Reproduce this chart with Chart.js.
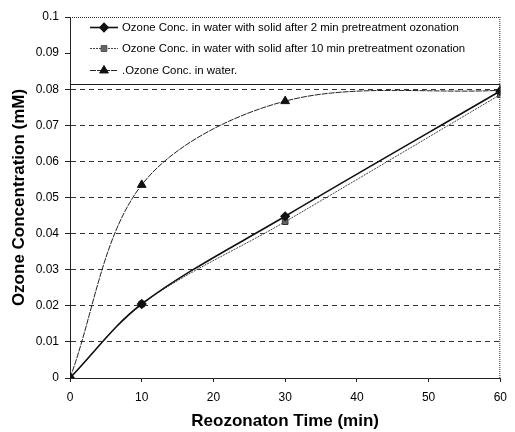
<!DOCTYPE html>
<html>
<head>
<meta charset="utf-8">
<script src="https://cdn.jsdelivr.net/npm/chart.js@4"></script>
<style>
    html, body { margin: 0; padding: 0; background: #fff; }
    #wrap { width: 515px; height: 432px; }
</style>
</head>
<body>
<div id="wrap"><canvas id="ozoneChart" width="515" height="432"></canvas></div>
<script>
// Reozonation time (min)
const times = [0, 10, 30, 60];

// Ozone concentration (mM)
const ozone2min = [0, 0.0205, 0.0448, 0.0795];
const ozone10min = [0, 0.0205, 0.0433, 0.0785];
const ozoneWater = [0, 0.0535, 0.0767, 0.0797];

const seriesLabels = [
    "Ozone Conc. in water with solid after 2 min pretreatment ozonation",
    "Ozone Conc. in water with solid after 10 min pretreatment ozonation",
    ".Ozone Conc. in water."
];

const xTicks = [0, 10, 20, 30, 40, 50, 60];

function toPoints(values) {
    return times.map((t, i) => ({ x: t, y: values[i] }));
}

// legend box drawn inside the top of the plot, over the gridlines
const boxLegend = {
    id: 'boxLegend',
    afterDraw(chart) {
        const ctx = chart.ctx;
        const area = chart.chartArea;
        const top = area.top;
        const bottom = 84;

        ctx.save();
        ctx.fillStyle = '#fff';
        ctx.fillRect(area.left + 1, top, area.right - area.left - 1, bottom - top);

        // dotted frame on top and right side of the plot
        ctx.strokeStyle = '#333';
        ctx.lineWidth = 1;
        ctx.setLineDash([1, 1]);
        ctx.beginPath();
        ctx.moveTo(area.left, top + 0.5);
        ctx.lineTo(area.right, top + 0.5);
        ctx.moveTo(area.right - 0.5, top);
        ctx.lineTo(area.right - 0.5, area.bottom);
        ctx.stroke();

        ctx.setLineDash([]);
        ctx.strokeStyle = '#222';
        ctx.beginPath();
        ctx.moveTo(area.left, bottom + 0.5);
        ctx.lineTo(area.right, bottom + 0.5);
        ctx.stroke();

        const rows = [27, 48, 70];
        ctx.font = '11.4px "Liberation Sans", Arial, sans-serif';
        ctx.textBaseline = 'middle';
        chart.data.datasets.forEach((ds, i) => {
            const y = rows[i];
            ctx.strokeStyle = ds.borderColor;
            ctx.lineWidth = ds.borderWidth;
            ctx.setLineDash(ds.borderDash || []);
            ctx.beginPath();
            ctx.moveTo(90, y + 0.5);
            ctx.lineTo(118, y + 0.5);
            ctx.stroke();
            ctx.setLineDash([]);
            Chart.helpers.drawPoint(ctx, {
                pointStyle: ds.pointStyle,
                radius: ds.pointRadius,
                borderWidth: 1
            }, 104, y + 0.5);
            ctx.fillStyle = ds.pointBackgroundColor;
            ctx.strokeStyle = ds.pointBorderColor;
            ctx.fill();
            ctx.fillStyle = '#000';
            ctx.fillText(ds.label, 122, y + 1);
        });
        ctx.restore();
    }
};

const ctx = document.getElementById('ozoneChart').getContext('2d');

new Chart(ctx, {
    type: 'line',
    data: {
        datasets: [{
            label: seriesLabels[0],
            data: toPoints(ozone2min),
            borderColor: '#111',
            borderWidth: 1.6,
            pointStyle: 'rectRot',
            pointRadius: 4,
            pointBackgroundColor: '#111',
            pointBorderColor: '#111',
            tension: 0.33
        }, {
            label: seriesLabels[1],
            data: toPoints(ozone10min),
            borderColor: '#444',
            borderWidth: 1,
            borderDash: [2, 1],
            pointStyle: 'rect',
            pointRadius: 4,
            pointBackgroundColor: '#666',
            pointBorderColor: '#333',
            tension: 0.33
        }, {
            label: seriesLabels[2],
            data: toPoints(ozoneWater),
            borderColor: '#222',
            borderWidth: 1,
            borderDash: [6, 1],
            pointStyle: 'triangle',
            pointRadius: 5,
            pointBackgroundColor: '#111',
            pointBorderColor: '#111',
            tension: 0.33
        }]
    },
    options: {
        responsive: false,
        animation: false,
        layout: { padding: { top: 17, right: 8, left: 0, bottom: 0 } },
        plugins: {
            legend: { display: false },
            tooltip: { enabled: false }
        },
        scales: {
            x: {
                type: 'linear',
                min: 0,
                max: 60,
                afterBuildTicks: scale => { scale.ticks = xTicks.map(v => ({ value: v })); },
                afterFit: scale => { scale.height = 54; },
                border: { display: true, color: '#222', width: 1 },
                grid: { drawOnChartArea: false, drawTicks: true, tickLength: 4, color: '#222' },
                ticks: {
                    color: '#000',
                    padding: 8,
                    maxRotation: 0,
                    font: { family: '"Liberation Sans", Arial, sans-serif', size: 12 }
                },
                title: {
                    display: true,
                    text: 'Reozonaton Time (min)',
                    color: '#000',
                    padding: { top: 0, bottom: 0 },
                    font: { family: '"Liberation Sans", Arial, sans-serif', size: 17, weight: 'bold' }
                }
            },
            y: {
                min: 0,
                max: 0.1,
                afterFit: scale => { scale.width = 70; },
                border: { display: true, color: '#222', width: 1, dash: [5, 4] },
                grid: { color: '#333', lineWidth: 1, drawTicks: true, tickLength: 5, tickColor: '#222' },
                ticks: {
                    stepSize: 0.01,
                    color: '#000',
                    padding: 6,
                    font: { family: '"Liberation Sans", Arial, sans-serif', size: 12 },
                    callback: v => parseFloat(v.toFixed(2)).toString()
                },
                title: {
                    display: true,
                    text: 'Ozone Concentration (mM)',
                    color: '#000',
                    padding: { top: 9, bottom: 0 },
                    font: { family: '"Liberation Sans", Arial, sans-serif', size: 17, weight: 'bold' }
                }
            }
        }
    },
    plugins: [boxLegend]
});
</script>
</body>
</html>
